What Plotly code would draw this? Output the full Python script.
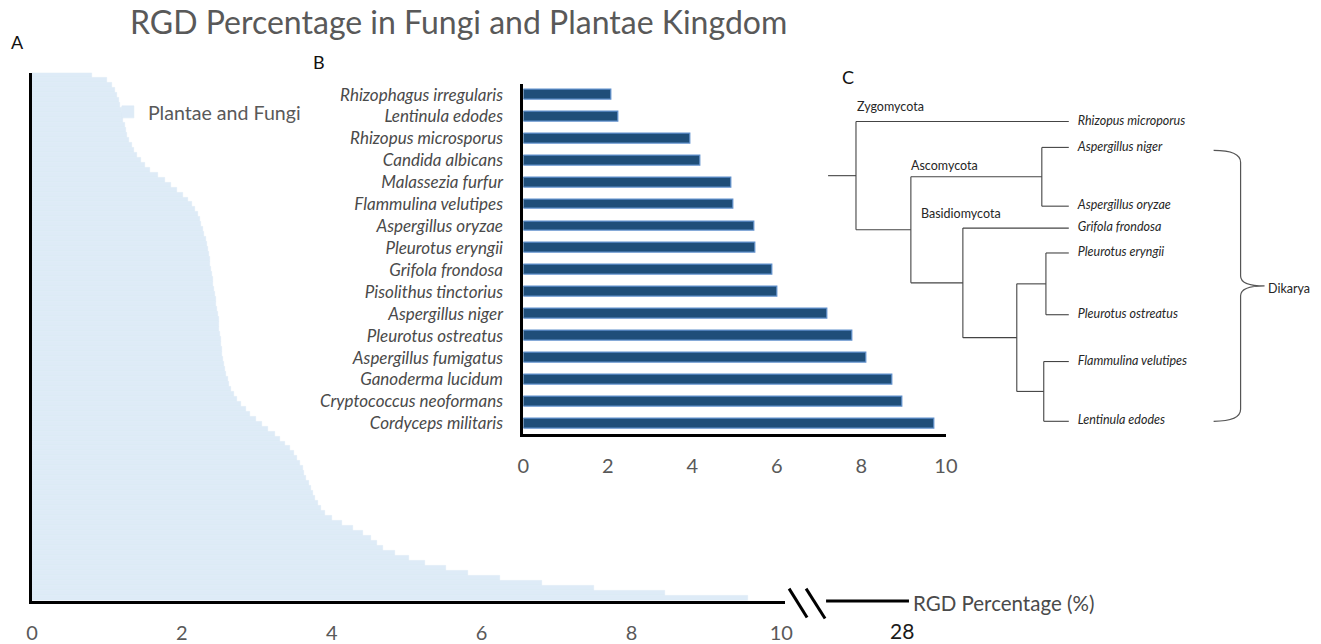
import plotly.graph_objects as go

W, H = 1321, 644

# ---------------- DATA ----------------
# Panel A: RGD percentage of Plantae and Fungi species (sorted, top -> bottom)
plantae_fungi_rgd = [
    0.80, 1.00, 1.07, 1.11, 1.14, 1.16, 1.18, 1.20, 1.21, 1.22,
    1.24, 1.25, 1.27, 1.30, 1.33, 1.36, 1.40, 1.45, 1.51, 1.58,
    1.68, 1.77, 1.86, 1.93, 2.01, 2.08, 2.13, 2.18, 2.21, 2.24,
    2.26, 2.28, 2.30, 2.32, 2.34, 2.35, 2.36, 2.37, 2.38, 2.39,
    2.40, 2.41, 2.42, 2.43, 2.44, 2.45, 2.46, 2.47, 2.48, 2.49,
    2.50, 2.50, 2.51, 2.52, 2.52, 2.53, 2.54, 2.55, 2.56, 2.57,
    2.59, 2.61, 2.63, 2.66, 2.70, 2.74, 2.79, 2.85, 2.91, 2.99,
    3.07, 3.15, 3.24, 3.31, 3.38, 3.44, 3.50, 3.54, 3.58, 3.61,
    3.63, 3.66, 3.69, 3.72, 3.75, 3.78, 3.82, 3.86, 3.91, 4.00,
    4.14, 4.28, 4.42, 4.52, 4.60, 4.69, 4.85, 5.03, 5.25, 5.52,
    5.82, 6.25, 6.80, 7.50, 8.45, 9.55,
]
a_series_name = "Plantae and Fungi"
a_ticks = [0, 2, 4, 6, 8, 10]
a_break_tick = "28"

# Panel B: RGD percentage in fungi
fungi_species = [
    "Rhizophagus irregularis", "Lentinula edodes", "Rhizopus microsporus",
    "Candida albicans", "Malassezia furfur", "Flammulina velutipes",
    "Aspergillus oryzae", "Pleurotus eryngii", "Grifola frondosa",
    "Pisolithus tinctorius", "Aspergillus niger", "Pleurotus ostreatus",
    "Aspergillus fumigatus", "Ganoderma lucidum", "Cryptococcus neoformans",
    "Cordyceps militaris",
]
fungi_rgd = [2.08, 2.25, 3.95, 4.18, 4.92, 4.96, 5.46, 5.50, 5.89, 6.00,
             7.19, 7.78, 8.12, 8.74, 8.98, 9.72]
b_ticks = [0, 2, 4, 6, 8, 10]

# Panel C: phylogenetic tree
tree_leaves = ["Rhizopus microporus", "Aspergillus niger", "Aspergillus oryzae",
               "Grifola frondosa", "Pleurotus eryngii", "Pleurotus ostreatus",
               "Flammulina velutipes", "Lentinula edodes"]
clade_names = ["Zygomycota", "Ascomycota", "Basidiomycota"]
group_name = "Dikarya"

# ---------------- LAYOUT HELPERS ----------------
# measured placement correction of the capture (target pixel -> page pixel)
SX, OX, SY = 0.9875, 6.0, 0.99

def X(p):
    return (p - OX) / SX

def Y(p):
    return p / SY

def px(p):
    return X(p) / W

def py(p):
    return 1 - Y(p) / H

FONT = "Lato"
GRAY = "#595959"
DARK = "#4a4a4a"

# tree geometry (layout): node depth (fraction of branch length) and leaf rows
leaf_rows = [122, 148, 207, 229, 254, 316, 363, 423]
L = dict(zip(tree_leaves, leaf_rows))
tree = ("root", [tree_leaves[0],
                 ("Dikarya", [("Ascomycota", [tree_leaves[1], tree_leaves[2]]),
                              ("Basidiomycota", [tree_leaves[3],
                                                 ("Agaricales", [("Pleurotus", [tree_leaves[4], tree_leaves[5]]),
                                                                 ("FL", [tree_leaves[6], tree_leaves[7]])])])])])
depth = {"root": 0.116, "Dikarya": 0.344, "Ascomycota": 0.888, "Basidiomycota": 0.56,
         "Agaricales": 0.784, "Pleurotus": 0.905, "FL": 0.896}
LEAF_DEPTH = 1.0
C_X0, C_X1 = 829, 1070          # pixel of depth 0 and of leaf tips
C_UNIT = C_X1 - C_X0
c_page0, c_page1 = X(C_X0), X(C_X1)
c_range_max = (W - c_page0) / (c_page1 - c_page0)

lx, ly = [], []
node_pos = {}

def walk(node):
    if isinstance(node, str):
        return LEAF_DEPTH, L[node]
    name, kids = node
    d = depth[name]
    pos = [walk(k) for k in kids]
    ys = [p[1] for p in pos]
    y = (min(ys) + max(ys)) / 2
    lx.extend([d, d, None]); ly.extend([min(ys), max(ys), None])
    for (cd, cy) in pos:
        lx.extend([d, cd, None]); ly.extend([cy, cy, None])
    node_pos[name] = (d, y)
    return d, y

rd, ry = walk(tree)
lx.extend([0, rd, None]); ly.extend([ry, ry, None])

# ---------------- FIGURE ----------------
fig = go.Figure()

fig.add_trace(go.Bar(
    x=plantae_fungi_rgd, y=list(range(len(plantae_fungi_rgd))), orientation="h",
    width=1.0, marker=dict(color="#DEEBF7", line=dict(color="#DEEBF7", width=0.6)),
    name=a_series_name, xaxis="x", yaxis="y", showlegend=True, hoverinfo="x",
))

fig.add_trace(go.Bar(
    x=fungi_rgd, y=fungi_species, orientation="h", width=0.45,
    marker=dict(color="#1F4E79", line=dict(color="#5F8FCB", width=1.2)),
    xaxis="x2", yaxis="y2", showlegend=False,
))

fig.add_trace(go.Scatter(
    x=lx, y=ly, mode="lines", line=dict(color="#444444", width=1.1),
    xaxis="x3", yaxis="y3", showlegend=False, hoverinfo="skip",
))
fig.add_trace(go.Scatter(
    x=[LEAF_DEPTH + 9 / C_UNIT] * len(tree_leaves), y=leaf_rows, mode="text",
    text=tree_leaves, textposition="middle right",
    textfont=dict(family=FONT, size=12.5, color="#262626", style="italic"),
    xaxis="x3", yaxis="y3", showlegend=False, hoverinfo="skip",
))

axis_common = dict(showgrid=False, zeroline=False, showline=True, linecolor="black",
                   linewidth=3, ticks="")

fig.update_layout(
    width=W, height=H, margin=dict(l=0, r=0, t=0, b=0),
    paper_bgcolor="white", plot_bgcolor="rgba(0,0,0,0)",
    font=dict(family=FONT, color=GRAY),
    xaxis=dict(domain=[px(32), px(786)], range=[0, 10.05], anchor="y",
               tickvals=a_ticks, tickfont=dict(size=20, color=GRAY),
               ticklabelstandoff=12, **axis_common),
    yaxis=dict(domain=[py(603), py(73)], range=[len(plantae_fungi_rgd) - 0.5, -0.5],
               anchor="x", showticklabels=False, **axis_common),
    xaxis2=dict(domain=[px(524), px(947)], range=[0, 10], anchor="y2",
                tickvals=b_ticks, tickfont=dict(size=20, color=GRAY),
                ticklabelstandoff=12, **axis_common),
    yaxis2=dict(domain=[py(436), py(84)], anchor="x2", type="category",
                categoryorder="array", categoryarray=fungi_species,
                autorange="reversed",
                tickfont=dict(size=17, color=DARK, style="italic"),
                ticklabelstandoff=14, **axis_common),
    xaxis3=dict(domain=[c_page0 / W, 1], range=[0, c_range_max], anchor="y3",
                visible=False),
    yaxis3=dict(domain=[0, 1], range=[H * SY, 0], anchor="x3", visible=False),
    legend=dict(x=px(108), y=py(93), xanchor="left", yanchor="top",
                bgcolor="rgba(0,0,0,0)", font=dict(size=19.6, color=GRAY),
                itemwidth=30),
    bargap=0,
)

# broken x-axis of panel A
shapes = [
    dict(type="line", xref="paper", yref="paper", x0=px(827), x1=px(910),
         y0=py(603.5), y1=py(603.5), line=dict(color="black", width=3)),
    dict(type="line", xref="paper", yref="paper", x0=px(790), x1=px(808),
         y0=py(591), y1=py(620), line=dict(color="black", width=3)),
    dict(type="line", xref="paper", yref="paper", x0=px(807), x1=px(826),
         y0=py(591), y1=py(621), line=dict(color="black", width=3)),
]
# Dikarya brace (spans Dikarya leaves)
bx0 = (1215 - C_X0) / C_UNIT
bx1 = (1242 - C_X0) / C_UNIT
btip = (1266 - C_X0) / C_UNIT
top, bot = L[tree_leaves[1]] + 3, L[tree_leaves[-1]]
mid = (top + bot) / 2
path = (f"M {bx0},{top} Q {bx1},{top} {bx1},{top+12} L {bx1},{mid-10} "
        f"Q {bx1},{mid} {btip},{mid} Q {bx1},{mid} {bx1},{mid+10} "
        f"L {bx1},{bot-12} Q {bx1},{bot} {bx0},{bot}")
shapes.append(dict(type="path", xref="x3", yref="y3", path=path,
                   line=dict(color="#555555", width=1.2)))
fig.update_layout(shapes=shapes)

ann = [
    dict(text="RGD Percentage in Fungi and Plantae Kingdom", x=px(459), y=py(22),
         font=dict(size=32, color=GRAY)),
    dict(text="A", x=px(18), y=py(42), font=dict(size=18, color="#111111")),
    dict(text="B", x=px(319), y=py(62), font=dict(size=18, color="#111111")),
    dict(text="C", x=px(849), y=py(77), font=dict(size=18, color="#111111")),
    dict(text=a_break_tick, x=px(903), y=py(633), font=dict(size=21, color="#1a1a1a")),
    dict(text="RGD Percentage (%)", x=px(912), y=py(605), xanchor="left",
         font=dict(size=20.5, color=DARK)),
]
for a in ann:
    a.setdefault("xanchor", "center")
    a.update(xref="paper", yref="paper", yanchor="middle", showarrow=False)

# clade labels
clade_anchor = [("Zygomycota", "root", L[tree_leaves[0]] - 15, -1),
                ("Ascomycota", "Dikarya", node_pos["Ascomycota"][1] - 11, -2),
                ("Basidiomycota", "Dikarya", L[tree_leaves[3]] - 15, 8)]
for name, node, yy, xs in clade_anchor:
    ann.append(dict(text=name, x=node_pos[node][0], y=yy, xref="x3", yref="y3",
                    xanchor="left", yanchor="middle", xshift=xs, showarrow=False,
                    font=dict(size=12.5, color="#262626")))
ann.append(dict(text=group_name, x=btip, y=mid + 3, xref="x3", yref="y3",
                xanchor="left", yanchor="middle", xshift=1, showarrow=False,
                font=dict(size=12.5, color="#262626")))
fig.update_layout(annotations=ann)

fig.write_html(
    "out.html",
    config={"displayModeBar": False},
    post_script=(
        "document.documentElement.style.margin='0px';"
        "document.body.style.margin='0px';"
        "document.documentElement.style.overflow='hidden';"
        "var gd=document.getElementById('{plot_id}');"
        "gd.style.position='fixed';gd.style.left='0px';gd.style.top='0px';"
    ),
)
